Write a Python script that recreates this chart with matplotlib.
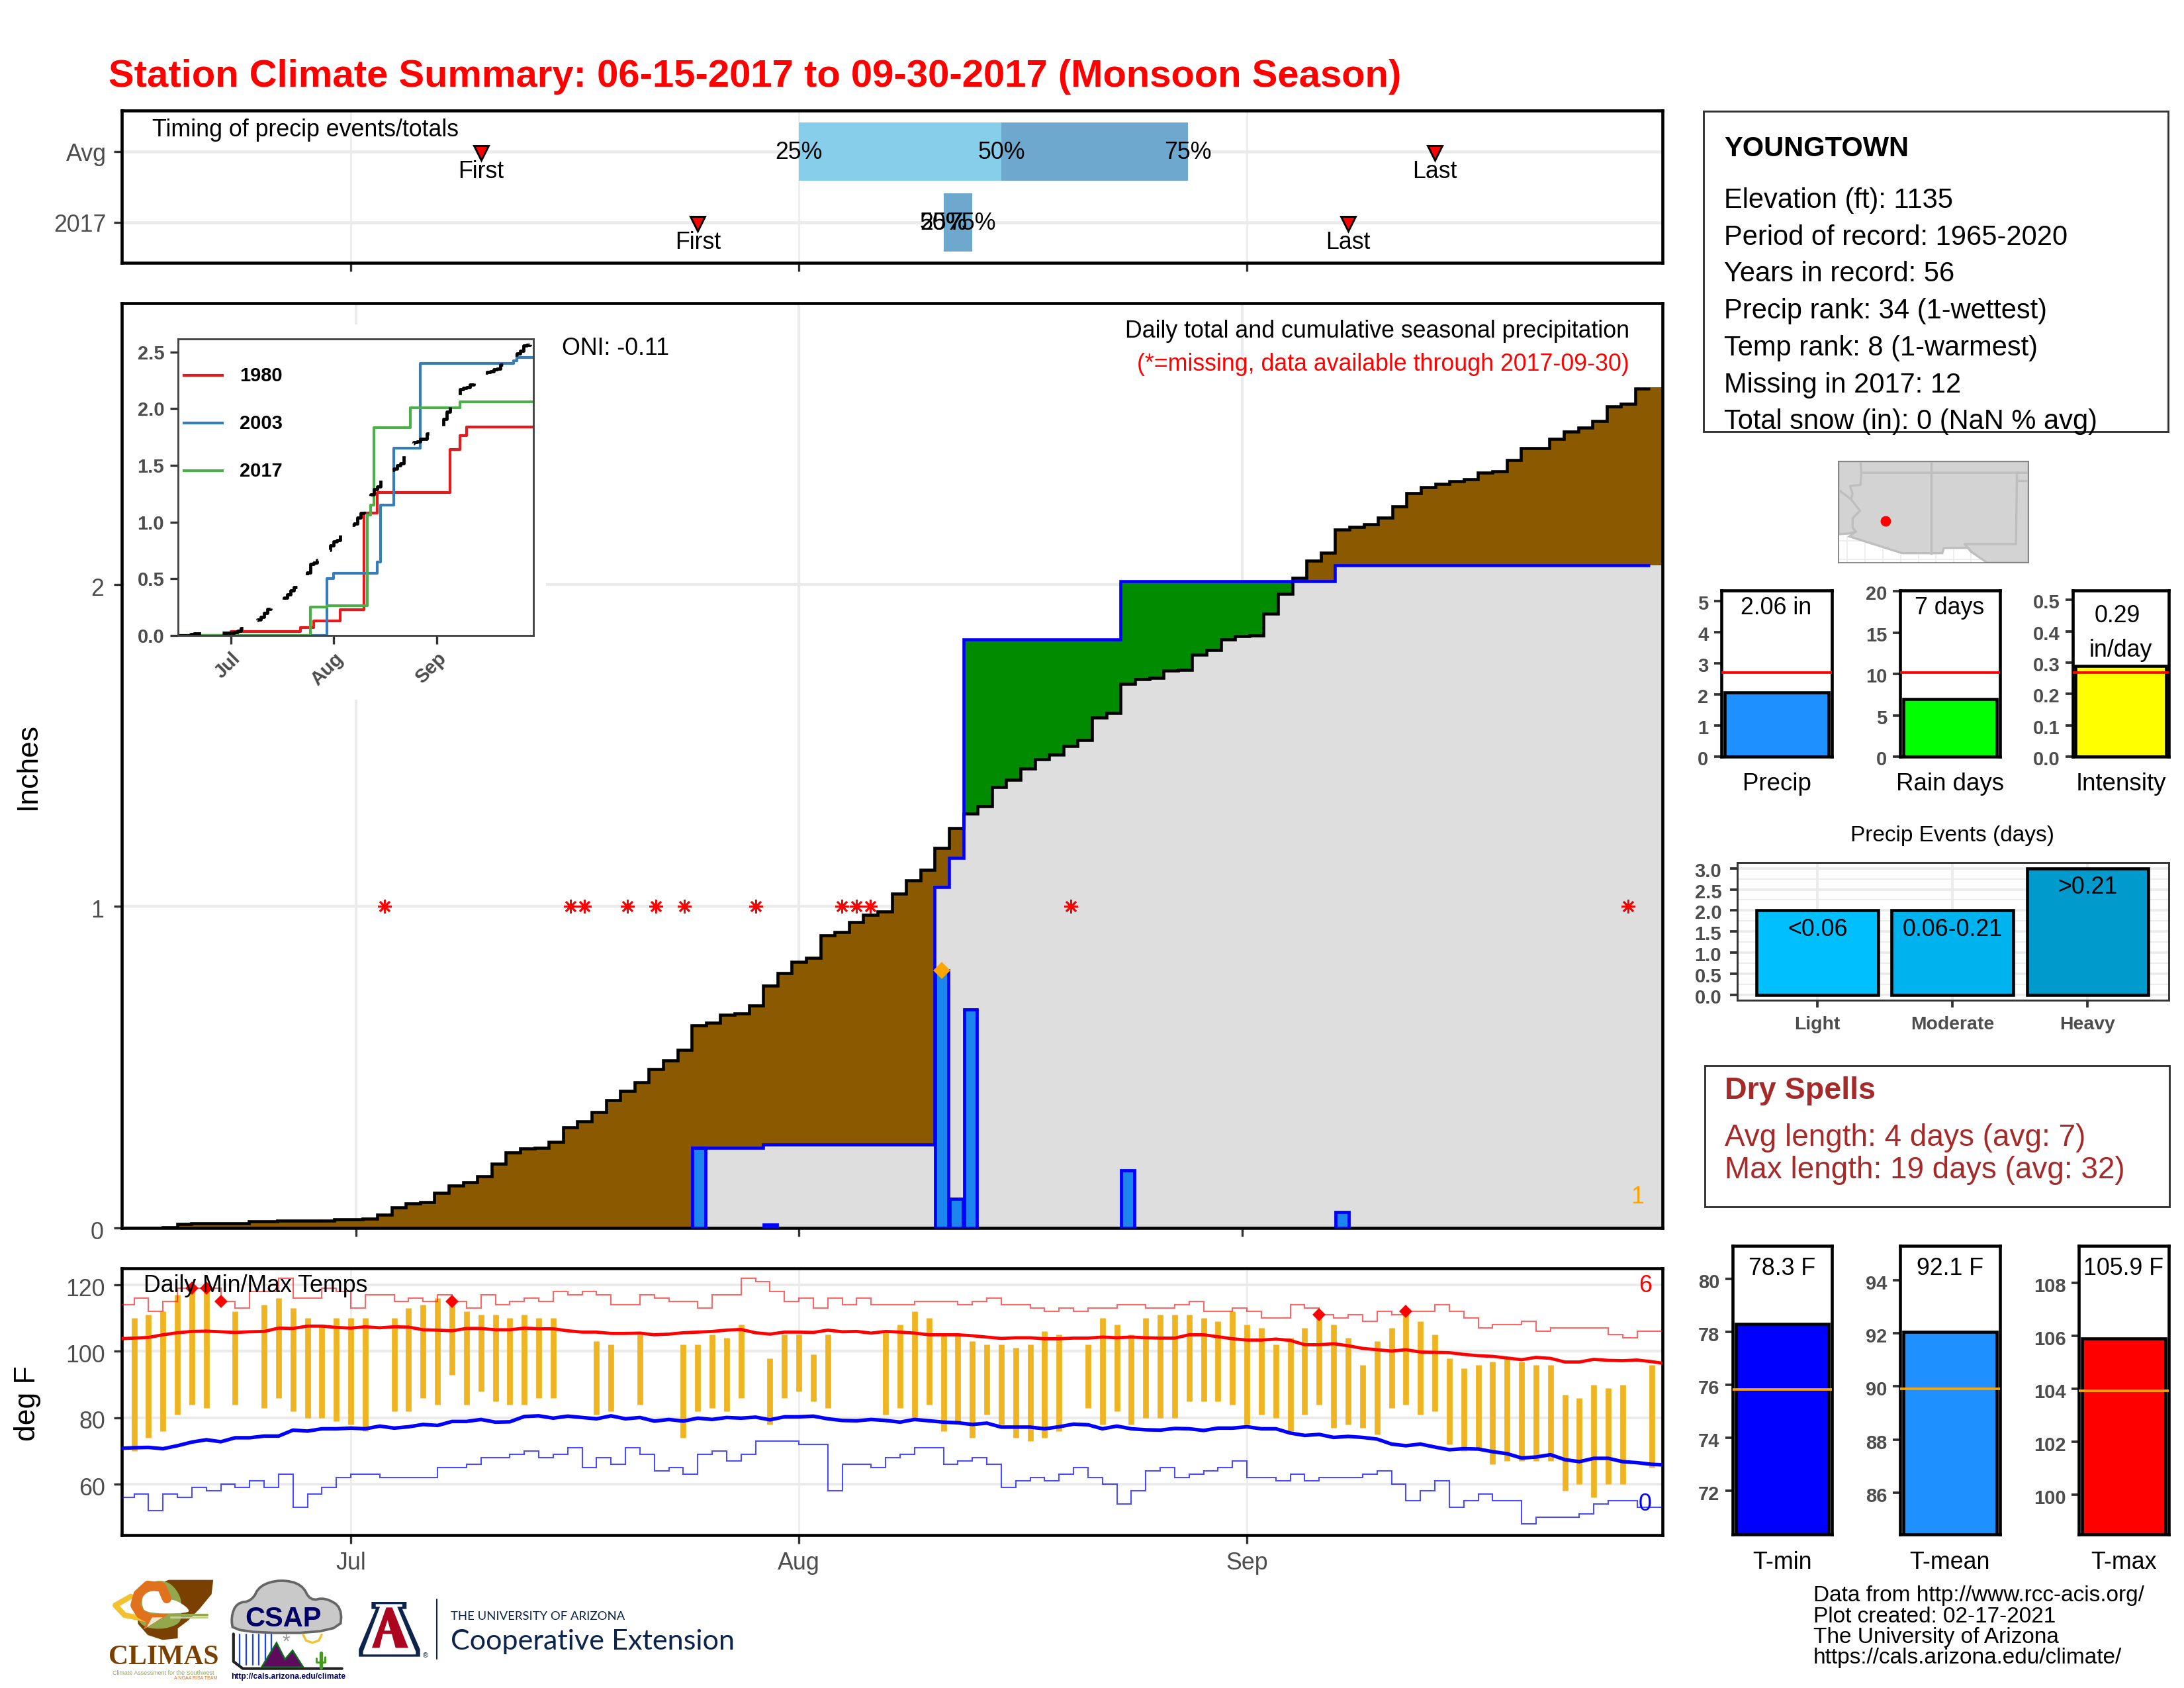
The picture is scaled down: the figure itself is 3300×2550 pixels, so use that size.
import numpy as np
import matplotlib
matplotlib.use("Agg")
import matplotlib.pyplot as plt
from matplotlib.patches import Rectangle, Polygon
from matplotlib.transforms import ScaledTranslation

plt.rcParams['font.family'] = ['Liberation Sans', 'DejaVu Sans']
W, H = 3300, 2550
nan = float('nan')

# ------- data ---------
month_days = [16, 47, 78]
month_names = ['Jul', 'Aug', 'Sep']

avg_cum = [0, 0, 0, .002, .013, .015, .015, .015, .015, .021, .021, .023, .023, .023, .023, .026, .026, .028,
           .042, .064, .076, .081, .110, .132, .142, .161, .200, .234, .246, .249, .268, .312, .331, .361,
           .397, .427, .453, .493, .521, .554, .629, .639, .663, .667, .691, .753, .792, .828, .840, .909,
           .919, .950, .974, .984, 1.040, 1.080, 1.113, 1.182, 1.243, 1.288, 1.311, 1.370, 1.394, 1.428,
           1.457, 1.472, 1.498, 1.517, 1.587, 1.602, 1.691, 1.706, 1.710, 1.733, 1.734, 1.782, 1.797,
           1.829, 1.840, 1.842, 1.910, 1.971, 2.020, 2.074, 2.099, 2.171, 2.180, 2.188, 2.209, 2.244,
           2.284, 2.303, 2.314, 2.322, 2.328, 2.348, 2.352, 2.388, 2.424, 2.424, 2.454, 2.475, 2.488,
           2.509, 2.554, 2.562, 2.609, 2.613]
rain_days = [40, 45, 57, 58, 59, 70, 85]
rain_amounts = [0.25, 0.01, 0.80, 0.09, 0.68, 0.18, 0.05]
missing_days = [18, 31, 32, 35, 37, 39, 44, 50, 51, 52, 66, 105]
max_rain_day, max_rain_value = 57, 0.80

y1980_days = [16, 37, 41, 49, 56, 60, 82, 85, 87]
y1980_cum = [0.035, 0.07, 0.13, 0.23, 1.08, 1.26, 1.64, 1.76, 1.84]
y2003_days = [45, 47, 60, 61, 65, 73, 101, 102]
y2003_cum = [0.50, 0.55, 0.65, 1.15, 1.65, 2.40, 2.42, 2.45]

tmax_obs = [nan, 110, 111, 112, 117, 119, 119, nan, 112, nan, 114, 116, 113, 110, 108, 110, 110, 110, nan, 110,
            113, 114, 116, 115, 112, 111, 111, 110, 111, 110, 110, nan, nan, 103, 102, nan, 105, nan, nan, 102,
            102, 105, 104, 108, nan, 98, 105, 105, 99, 105, nan, nan, nan, 106, 108, 112, 110, 105, 105, 103,
            102, 102, 101, 102, 106, 105, nan, 102, 110, 108, 105, 110, 111, 111, 111, 110, 109, 112, 108, 107,
            102, 104, 107, 111, 108, 104, 96, 103, 107, 112, 109, 105, 98, 95, 96, 97, 98, 97, 96, 96,
            87, 86, 90, 89, 90, nan, 96]
tmin_obs = [nan, 70, 74, 76, 81, 84, 83, nan, 84, nan, 83, 86, 82, 80, 80, 79, 78, 76, nan, 82,
            82, 86, 84, 93, 84, 88, 85, 84, 84, 86, 86, nan, nan, 81, 82, nan, 84, nan, nan, 74,
            82, 83, 82, 86, nan, 78, 86, 88, 85, 83, nan, nan, nan, 81, 83, 80, 84, 76, 79, 74,
            81, 78, 74, 73, 74, 76, nan, 83, 78, 82, 78, 80, 80, 80, 85, 85, 85, 84, 78, 81,
            80, 76, 81, 84, 77, 78, 77, 75, 83, 84, 81, 82, 72, 70, 71, 66, 67, 67, 67, 67,
            58, 60, 56, 60, 60, nan, 65]
rec_max = [114, 116, 112, 115, 119, 119, 119, 115, 113, 118, 118, 122, 116, 116, 119, 118, 113, 117, 117, 115,
           116, 115, 117, 115, 113, 117, 114, 115, 116, 115, 118, 117, 118, 117, 114, 114, 117, 116, 115, 115,
           113, 117, 117, 122, 121, 118, 115, 116, 113, 116, 114, 116, 114, 114, 114, 115, 115, 115, 114, 115,
           116, 114, 114, 113, 112, 113, 112, 113, 113, 114, 114, 113, 113, 114, 115, 112, 112, 113, 112, 110,
           110, 114, 113, 111, 110, 111, 109, 112, 111, 112, 112, 114, 112, 110, 107, 108, 108, 109, 106, 107,
           107, 107, 107, 105, 104, 106, 106]
rec_min = [56, 57, 52, 57, 56, 59, 58, 60, 59, 61, 59, 63, 53, 57, 59, 62, 63, 63, 62, 62,
           62, 62, 65, 65, 66, 68, 68, 69, 70, 68, 69, 71, 65, 68, 66, 71, 69, 64, 65, 63,
           69, 70, 67, 69, 73, 73, 73, 72, 72, 58, 66, 66, 65, 68, 69, 71, 71, 66, 67, 68,
           66, 59, 61, 62, 61, 63, 65, 62, 60, 54, 58, 64, 65, 62, 63, 64, 65, 67, 62, 62,
           61, 63, 61, 62, 62, 62, 63, 64, 60, 55, 58, 61, 53, 55, 57, 55, 55, 48, 50, 50,
           50, 51, 54, 55, 55, 53, 53]
avg_max = [103.8, 104, 104.2, 105, 105.6, 106, 106.1, 105.9, 105.7, 105.9, 106, 107, 106.9, 107.6, 107.6, 107.2,
           107, 107.4, 107.1, 107.4, 107.3, 106.5, 106.4, 106.2, 106.9, 106.9, 106.5, 106.5, 107, 106.8, 106.8,
           106.2, 105.8, 105.8, 105.4, 105.4, 105.5, 105, 105.2, 105.6, 105.8, 106, 106.4, 106.6, 105.6, 105.2,
           105.8, 105.8, 105.7, 106.4, 105.9, 106, 105.5, 106, 105.8, 105.5, 105, 105, 105, 104.7, 104.3, 103.9,
           104.1, 104.1, 103.8, 103.8, 104, 104, 104.3, 104.1, 104.3, 104.1, 104, 104, 105, 105, 104.4, 103.8,
           103.4, 103.4, 103.7, 103.3, 102, 102, 102.3, 101.7, 100.9, 100.5, 100.1, 100.5, 99.8, 99.7, 99.6,
           99.1, 98.7, 98.5, 98, 97.5, 98.2, 97.9, 96.8, 96.8, 97.6, 97.3, 97.2, 97.4, 96.9, 96.3]
avg_min = [70.8, 71, 71.1, 70.7, 71.6, 72.7, 73.4, 72.8, 74, 74, 74.5, 74.5, 76.3, 76, 76.7, 76.7, 76.9, 76.7,
           77.5, 76.9, 77.3, 78, 77.7, 78.9, 78.9, 79.5, 78.7, 78.8, 80.4, 80.6, 79.9, 80.5, 80.1, 79.7, 80.6,
           79.7, 80.1, 79, 79.5, 79, 79.9, 79.5, 80.1, 79.9, 80.2, 79.4, 80.3, 80.3, 80.5, 79.7, 79.2, 79.1,
           79.5, 79.2, 78.7, 79.5, 79.1, 78.7, 78.5, 78, 78.4, 77.2, 77.2, 77.2, 76.7, 77.3, 78.1, 77.9, 76.7,
           77.5, 76.7, 76.4, 76.3, 76.8, 76.7, 76.2, 76.9, 76.9, 77.3, 76.7, 76.7, 75.4, 74.7, 75, 74.1, 74.4,
           74.1, 73.6, 72.1, 71.6, 72.1, 71.2, 70.4, 70.7, 70.6, 69.8, 69.2, 67.9, 68.2, 68.9, 67.4, 66.8,
           67.8, 67.8, 66.8, 66.5, 66, 65.8]
record_hi_days = [5, 6, 7, 23, 83, 89]
record_hi_vals = [119, 119, 115, 115, 111, 112]

timing_rows = ['Avg', '2017']
timing_first = [25, 40]
timing_last = [91, 85]
timing_q25 = [47, 57]
timing_q50 = [61, 57]
timing_q75 = [73.9, 59]

small_names = ['Precip', 'Rain days', 'Intensity']
small_values = [2.06, 7, 0.29]
small_avgs = [2.71, 10.15, 0.268]
small_colors = ['#1e90ff', '#00ff00', '#ffff00']
event_names = ['Light', 'Moderate', 'Heavy']
event_values = [2, 2, 3]
event_labels = ['<0.06', '0.06-0.21', '>0.21']
event_colors = ['#00bfff', '#00b2ee', '#009acd']
temp_names = ['T-min', 'T-mean', 'T-max']
temp_values = [78.3, 92.05, 105.9]
temp_avgs = [75.82, 89.9, 103.92]
temp_labels = ['78.3 F', '92.1 F', '105.9 F']
temp_colors = ['#0000ff', '#1e90ff', '#ff0000']

station_lines = ['Elevation (ft): 1135', 'Period of record: 1965-2020', 'Years in record: 56',
                 'Precip rank: 34 (1-wettest)', 'Temp rank: 8 (1-warmest)', 'Missing in 2017: 12',
                 'Total snow (in): 0 (NaN % avg)']
footer_lines = ['Data from http://www.rcc-acis.org/', 'Plot created: 02-17-2021',
                'The University of Arizona', 'https://cals.arizona.edu/climate/']

# ------- helpers --------
GREY = '#4d4d4d'
GRID = '#ebebeb'
TS = 8.6
fig = plt.figure(figsize=(11, 8.5), dpi=300, facecolor='white')


def axpx(l, t, r, b, z=1):
    return fig.add_axes([l / W, 1 - b / H, (r - l) / W, (b - t) / H], zorder=z)


def spines(ax, color='black', lw=1.1):
    for s in ax.spines.values():
        s.set_color(color)
        s.set_linewidth(lw)


def nudge_ylabels(ax, px):
    off = ScaledTranslation(0, -px / 300, fig.dpi_scale_trans)
    for lab in ax.get_yticklabels():
        lab.set_transform(lab.get_transform() + off)


over = fig.add_axes([0, 0, 1, 1], zorder=20)
over.set_xlim(0, W)
over.set_ylim(H, 0)
over.axis('off')
over.patch.set_alpha(0)


def T(x, y, s, size=TS, color='black', ha='left', va='center', **kw):
    if va == 'center':
        y = y + 3
    return over.text(x, y, s, fontsize=size, color=color, ha=ha, va=va, **kw)


days = np.arange(len(avg_cum))
avg = np.array(avg_cum)
daily = np.zeros(len(avg))
daily[rain_days] = rain_amounts
cum = np.cumsum(daily)

# ------- title ----------
T(164, 131, 'Station Climate Summary: 06-15-2017 to 09-30-2017 (Monsoon Season)', size=13.92, color='#ff0000',
  weight='bold', va='baseline')

# ------- top timing panel ---------
ax = axpx(184, 167, 2512, 397)
ax.set_xlim(0.15, 106.75)
ax.set_ylim(2.57, 0.42)
ypos = [1, 2]
ax.hlines(ypos, 0, 110, color=GRID, lw=1.1, zorder=0)
ax.vlines(month_days, 0, 3, color=GRID, lw=0.6, zorder=0)
ax.barh(1, timing_q50[0] - timing_q25[0], left=timing_q25[0], height=.83, color='#87ceeb', zorder=1)
ax.barh(1, timing_q75[0] - timing_q50[0], left=timing_q50[0], height=.83, color='#6fa8cf', zorder=1)
ax.barh(2, timing_q75[1] - timing_q25[1], left=timing_q25[1], height=.83, color='#6fa8cf', zorder=1)
for i, y in enumerate(ypos):
    ax.plot([timing_first[i], timing_last[i]], [y + .015, y + .015], ls='none', marker='v', ms=5.2,
            mfc='#ff0000', mec='black', mew=.7, zorder=3)
    ax.text(timing_first[i], y + .285, 'First', ha='center', va='center', fontsize=TS, zorder=4)
    ax.text(timing_last[i], y + .285, 'Last', ha='center', va='center', fontsize=TS, zorder=4)
    for q, lab in zip((timing_q25, timing_q50, timing_q75), ('25%', '50%', '75%')):
        ax.text(q[i], y + .01, lab, ha='center', va='center', fontsize=TS, zorder=4)
ax.set_yticks(ypos, timing_rows, fontsize=8.6, color=GREY)
ax.set_xticks(month_days, [])
ax.tick_params(length=3, width=.8, color='#333333')
ax.tick_params(axis='y', pad=2.5)
spines(ax, lw=1.1)
nudge_ylabels(ax, 0)
T(230, 193, 'Timing of precip events/totals')

# ------- main precip panel ----------
ax = axpx(184, 458, 2512, 1855)
ax.set_xlim(-0.37, 107.4)
ax.set_ylim(0, 2.875)
ax.hlines([1, 2], -1, 110, color=GRID, lw=1.0, zorder=0)
ax.vlines(month_days, 0, 3, color=GRID, lw=1.0, zorder=0)
edges = np.arange(-0.5, 108.5)
lo = np.minimum(avg, cum)
brown_top = np.where(avg >= cum, avg, cum)
green_top = np.where(cum > avg, cum, avg)
ax.fill_between(edges, np.append(lo, lo[-1]), 0, step='post', color='#dedede', lw=0, zorder=1)
ax.fill_between(edges, np.append(cum, cum[-1]), np.append(brown_top, brown_top[-1]), step='post', color='#8b5a00',
                lw=0, zorder=1)
ax.fill_between(edges, np.append(avg, avg[-1]), np.append(green_top, green_top[-1]), step='post', color='#008b00',
                lw=0, zorder=1)
ax.stairs(avg[:107], edges[:108], color='black', lw=1.1, zorder=3, baseline=None)
ax.stairs(cum[40:107], edges[40:108], color='#0000ff', lw=1.1, zorder=4, baseline=None)
ax.bar(rain_days, rain_amounts, width=.92, color='#1c86ee', edgecolor='#0000ff', lw=1.15, zorder=5)
ax.plot([max_rain_day], [max_rain_value], marker='D', ms=3.4, color='#ffa500', ls='none', zorder=6)
ax.plot(missing_days, np.ones(len(missing_days)), ls='none', marker=(8, 2, 0), ms=5, mew=.65, color='#ff0000',
        zorder=6)
ax.set_yticks([0, 1, 2], ['0', '1', '2'], fontsize=8.6, color=GREY)
ax.set_xticks(month_days, [])
ax.tick_params(length=3, width=.8, color='#333333')
spines(ax, lw=1.1)
nudge_ylabels(ax, 3)
T(42, 1154, 'Inches', size=10.7, rotation=90, ha='center')
T(849, 523, 'ONI: -0.11')
T(2462, 497, 'Daily total and cumulative seasonal precipitation', ha='right')
T(2462, 548, '(*=missing, data available through 2017-09-30)', color='#ff0000', ha='right')
T(2474, 1805, '1', color='#ffa500', ha='center')

# inset
bg = axpx(188, 490, 825, 1057, z=2)
bg.axis('off')
bg.add_patch(Rectangle((0, 0), 1, 1, transform=bg.transAxes, color='white', lw=0))
ins = axpx(269, 512, 806, 960, z=3)
ins.set_xlim(0.18, 107)
ins.set_ylim(0, 2.614)
y80 = np.zeros(len(days))
for d, v in zip(y1980_days, y1980_cum):
    y80[d:] = v
y03 = np.zeros(len(days))
for d, v in zip(y2003_days, y2003_cum):
    y03[d:] = v
ins.step(days, y80, where='post', color='#e41a1c', lw=1.0)
ins.step(days, y03, where='post', color='#377eb8', lw=1.0)
ins.step(days, cum, where='post', color='#4daf4a', lw=1.0)
ins.step(days, avg, where='post', color='black', lw=1.15, ls=(0, (8, 7)))
ins.set_yticks([0, .5, 1, 1.5, 2, 2.5], ['0.0', '0.5', '1.0', '1.5', '2.0', '2.5'], fontsize=7, weight='bold',
               color=GREY)
ins.set_xticks(month_days, month_names, fontsize=7, weight='bold', color=GREY, rotation=45, ha='right',
               rotation_mode='anchor')
ins.tick_params(length=3, width=.8, color='#333333', pad=2)
spines(ins, color='#444444', lw=.7)
for yy, name, c in zip((567, 639, 711), ('1980', '2003', '2017'), ('#e41a1c', '#377eb8', '#4daf4a')):
    over.plot([278, 336], [yy, yy], color=c, lw=1.0)
    T(362, yy - 2, name, size=7, weight='bold')

# ------- temp panel ---------
ax = axpx(184, 1916, 2512, 2319)
ax.set_xlim(0.15, 106.75)
ax.set_ylim(44.7, 125.0)
ax.hlines([60, 80, 100, 120], -1, 110, color=GRID, lw=1.0, zorder=0)
ax.vlines(month_days, 0, 130, color=GRID, lw=.6, zorder=0)
td = np.arange(len(tmax_obs))
ax.vlines(td, tmin_obs, tmax_obs, color='#eeb422', lw=2.1, zorder=2)
ax.stairs(rec_max, np.arange(len(rec_max) + 1), color='#ff0000', lw=.5, alpha=.6, baseline=None, zorder=3)
ax.stairs(rec_min, np.arange(len(rec_min) + 1), color='#0000ff', lw=.5, alpha=.7, baseline=None, zorder=3)
ax.plot(np.arange(len(avg_max)), avg_max, color='#ff0000', lw=1.15, zorder=4)
ax.plot(np.arange(len(avg_min)), avg_min, color='#0000ff', lw=1.3, zorder=4)
ax.plot(record_hi_days, record_hi_vals, ls='none', marker='D', ms=2.3, color='#ff0000', zorder=5)
ax.set_yticks([60, 80, 100, 120], ['60', '80', '100', '120'], fontsize=8.6, color=GREY)
ax.set_xticks(month_days, month_names, fontsize=8.6, color=GREY)
ax.tick_params(length=3, width=.8, color='#333333', pad=3)
spines(ax, lw=1.1)
nudge_ylabels(ax, 3)
T(42, 2117, 'deg F', size=10.7, rotation=90, ha='center')
T(217, 1939, 'Daily Min/Max Temps')
T(2486, 1939, '6', color='#ff0000', ha='center')
T(2486, 2269, '0', color='#0000ff', ha='center')

# ------- station box ---------
over.add_patch(Rectangle((2574, 168), 702, 484, fill=False, ec='#333333', lw=.7))
T(2605, 236, 'YOUNGTOWN', size=10, weight='bold', va='baseline')
for i, line_txt in enumerate(station_lines):
    T(2605, 314 + i * 55.7, line_txt, size=10, va='baseline')

# ------- map -------------
m = axpx(2778, 697, 3065, 850, z=2)
m.set_xlim(491, 1084)
m.set_ylim(297, 30)
m.set_xticks([])
m.set_yticks([])
m.vlines([517, 573, 630, 685, 740, 795, 850, 905, 960, 1015], 225, 297, color=GRID, lw=.4, zorder=0)
m.hlines([240, 288], 491, 1084, color=GRID, lw=.4, zorder=0)
land_x = [491, 525, 545, 525, 690, 815, 820, 895, 905, 955, 1084, 1084, 491]
land_y = [222, 220, 215, 228, 272, 272, 258, 258, 268, 297, 297, 30, 30]
m.add_patch(Polygon(np.c_[land_x, land_y], closed=True, fc='#d3d3d3', ec='#bebebe', lw=.8, zorder=1))
border_paths = [([560, 562, 1084], [30, 60, 60]),
                ([491, 530, 535, 527, 560, 562], [105, 130, 115, 95, 92, 60]),
                ([530, 558, 535, 535, 545], [130, 160, 180, 205, 215]),
                ([780, 780], [30, 272]),
                ([1048, 1045, 885, 905], [60, 248, 248, 268]),
                ([1048, 1084], [80, 80])]
for bx, by in border_paths:
    m.plot(bx, by, color='#bebebe', lw=.8, zorder=2)
m.plot([637], [187], marker='o', ms=2.8, color='#ff0000', zorder=3)
spines(m, color='#777777', lw=.4)

# ------- small bars -----------
rects = [(2601, 2768, (0, 5.35), [0, 1, 2, 3, 4, 5], None),
         (2871, 3022, (0, 20.1), [0, 5, 10, 15, 20], None),
         (3132, 3277, (0, .53), [0, .1, .2, .3, .4, .5], '%.1f')]
for i, (l, r, lim, tk, fmt) in enumerate(rects):
    a = axpx(l, 892, r, 1143)
    a.set_xlim(-.5, .5)
    a.set_ylim(*lim)
    a.bar(0, small_values[i], width=.94, color=small_colors[i], edgecolor='black', lw=1.1, zorder=2)
    a.hlines(small_avgs[i], -.5, .5, color='#ff0000', lw=.9, zorder=3, clip_on=False)
    a.set_xticks([])
    a.set_yticks(tk, [(fmt % t if fmt else str(t)) for t in tk], fontsize=7, weight='bold', color=GREY)
    a.tick_params(length=2.7, width=.9, color='#333333', pad=2)
    spines(a, lw=1.1)
    nudge_ylabels(a, 2)
    T((l + r) / 2, 1181, small_names[i], ha='center', size=8.8)
T(2684, 915, '2.06 in', ha='center')
T(2946, 915, '7 days', ha='center')
T(3199, 928, '0.29', ha='center')
T(3204, 980, 'in/day', ha='center')

# ------- events ---------
a = axpx(2625, 1303, 3277, 1511)
a.set_xlim(-.593, 2.6)
a.set_ylim(-.126, 3.136)
a.hlines(np.arange(0, 3.01, .5), -1, 3, color=GRID, lw=.9, zorder=0)
a.hlines(np.arange(.25, 3.01, .5), -1, 3, color=GRID, lw=.45, zorder=0)
a.vlines([0, 1, 2], -1, 4, color=GRID, lw=.9, zorder=0)
a.bar([0, 1, 2], event_values, width=.9, color=event_colors, edgecolor='black', lw=1.1, zorder=2)
for i in range(3):
    a.text(i, event_values[i] - .45, event_labels[i], ha='center', va='center', fontsize=TS, zorder=3)
a.set_xticks([0, 1, 2], event_names, fontsize=6.8, weight='bold', color=GREY)
a.set_yticks(np.arange(0, 3.01, .5), ['0.0', '0.5', '1.0', '1.5', '2.0', '2.5', '3.0'], fontsize=7, weight='bold',
             color=GREY)
a.tick_params(length=2.7, width=.9, color='#333333', pad=3)
spines(a, color='#333333', lw=.7)
nudge_ylabels(a, 2)
T(2950, 1260, 'Precip Events (days)', ha='center', size=8)

# ------- dry spells --------
over.add_patch(Rectangle((2576, 1610), 702, 213, fill=False, ec='#333333', lw=.7))
T(2606, 1645, 'Dry Spells', size=11.2, weight='bold', color='#a52a2a')
T(2606, 1716, 'Avg length: 4 days (avg: 7)', size=11, color='#a52a2a')
T(2606, 1765, 'Max length: 19 days (avg: 32)', size=11, color='#a52a2a')

# ------- temp bars --------
trects = [(2618, 2768, (70.35, 81.24), [72, 74, 76, 78, 80]),
          (2871, 3022, (84.42, 95.3), [86, 88, 90, 92, 94]),
          (3141, 3277, (98.5, 109.39), [100, 102, 104, 106, 108])]
for i, (l, r, lim, tk) in enumerate(trects):
    a = axpx(l, 1882, r, 2318)
    a.set_xlim(-.5, .5)
    a.set_ylim(*lim)
    a.bar(0, temp_values[i] - lim[0] + 1, bottom=lim[0] - 1, width=.93, color=temp_colors[i], edgecolor='black',
          lw=1.1, zorder=2)
    a.hlines(temp_avgs[i], -.5, .5, color='#ffa500', lw=.9, zorder=3)
    a.set_xticks([])
    a.set_yticks(tk, [str(t) for t in tk], fontsize=7, weight='bold', color=GREY)
    a.tick_params(length=2.7, width=.9, color='#333333', pad=2)
    spines(a, lw=1.1)
    nudge_ylabels(a, 3)
    T((l + r) / 2, 1913, temp_labels[i], ha='center')
    T((l + r) / 2, 2357, temp_names[i], ha='center')

# ------- footer --------
for i, line_txt in enumerate(footer_lines):
    T(2740, 2408 + i * 31.3, line_txt, size=8.03)


# ------- logos (outlines in reference crop coordinates) --------
def Z(pts):
    return [(150 + x / 1.568, 2360 + y / 3) for x, y in pts]


def chaikin(pts, n=3):
    p = np.array(pts, dtype=float)
    for _ in range(n):
        q = np.roll(p, -1, axis=0)
        p = np.column_stack((.75 * p + .25 * q, .25 * p + .75 * q)).reshape(-1, 2)
    return p.tolist()


def poly(pts, fc, ec='none', lw=0, z=1):
    over.add_patch(Polygon(Z(pts), closed=True, fc=fc, ec=ec, lw=lw, zorder=z))


def line(pts, c, lw, z=2):
    p = np.array(Z(pts))
    over.plot(p[:, 0], p[:, 1], color=c, lw=lw, zorder=z, solid_capstyle='round')


BROWN = '#7a4000'
NAVY = '#0c234b'
# CLIMAS
poly([(165, 80), (270, 80), (266, 145), (238, 210), (212, 262), (186, 300), (186, 345), (150, 352), (115, 330),
      (92, 280), (88, 200), (120, 110)], BROWN)
poly(chaikin([(135, 80), (165, 90), (185, 130), (195, 175), (195, 240), (190, 280), (150, 305), (105, 295), (88, 250),
              (78, 180), (100, 115)]), '#93a84c', z=2)
poly(chaikin([(105, 140), (140, 125), (160, 165), (185, 175), (212, 210), (212, 232), (110, 232), (100, 190)]),
     'white', z=3)
line([(160, 165), (148, 112), (115, 105), (92, 145), (85, 195), (98, 235), (118, 255)], '#e2711d', 3.4, 4)
line([(75, 155), (38, 195), (60, 240), (110, 258)], '#f2c230', 2.0, 3)
line([(170, 238), (255, 238)], '#93a84c', .8, 5)
line([(170, 250), (255, 250)], '#c7cf8e', .8, 5)
poly([(105, 305), (165, 235), (120, 235)], '#e2711d', z=5)
poly([(112, 296), (150, 250), (125, 250)], '#f4e7d0', z=6)
T(150 + 152 / 1.568, 2360 + 422 / 3, 'CLIMAS', size=10, color=BROWN, ha='center', family='Liberation Serif',
  weight='bold')
T(150 + 152 / 1.568, 2360 + 493 / 3, 'Climate Assessment for the Southwest', size=2.15, color='#93a84c', ha='center')
T(150 + 228 / 1.568, 2360 + 518 / 3, 'A NOAA RISA TEAM', size=1.7, color='#e2711d', ha='center')
# CSAP
poly(chaikin([(318, 320), (570, 320), (575, 205), (535, 160), (500, 175), (480, 100), (430, 78), (380, 105), (362, 175),
              (325, 185), (312, 250)], 2), '#c9c9c9', '#666666', .9)
T(150 + 436 / 1.568, 2360 + 250 / 3, 'CSAP', size=10, weight='bold', color='#000066', ha='center')
for zx in (333, 348, 363, 378, 393, 408):
    line([(zx, 328), (zx, 465)], '#1f45d8', .55)
line([(318, 325), (318, 450), (340, 482), (575, 482)], '#222222', 1.0)
poly([(385, 475), (420, 365), (440, 440), (458, 400), (483, 475)], '#5e0b5e', '#0a6b1a', .6, 3)
T(150 + 443 / 1.568, 2360 + 352 / 3, '*', size=7, color='#999999', ha='center')
line([(483, 328), (490, 355), (505, 365), (520, 355), (527, 328)], '#f2c230', .8)
line([(525, 412), (525, 478)], '#3f9c16', 1.3)
line([(515, 435), (515, 452), (535, 452), (535, 430)], '#3f9c16', .7)
T(150 + 448 / 1.568, 2360 + 510 / 3, 'http://cals.arizona.edu/climate', size=2.9, weight='bold', color='#000066',
  ha='center')
# University of Arizona
poly([(645, 180), (728, 180), (728, 212), (718, 212), (760, 395), (760, 428), (615, 428), (615, 395), (655, 212),
      (645, 212)], NAVY)
poly([(655, 190), (718, 190), (718, 202), (706, 202), (750, 405), (750, 418), (625, 418), (625, 405), (665, 202),
      (655, 202)], 'white', z=2)
poly([(680, 205), (694, 205), (732, 388), (702, 388), (693, 325), (672, 325), (664, 388), (646, 388)], '#ab0520', z=3)
poly([(683, 262), (690, 310), (675, 310)], 'white', z=4)
T(150 + 772 / 1.568, 2360 + 415 / 3, '®', size=2.6, color=NAVY, ha='center')
line([(800, 168), (800, 438)], NAVY, .5)
T(150 + 833 / 1.568, 2360 + 237 / 3, 'THE UNIVERSITY OF ARIZONA', size=4.45, color=NAVY, family='Lato')
T(150 + 833 / 1.568, 2360 + 352 / 3, 'Cooperative Extension', size=10.35, color=NAVY, family='Lato')

fig.savefig('out.png', dpi=300, facecolor='white')
